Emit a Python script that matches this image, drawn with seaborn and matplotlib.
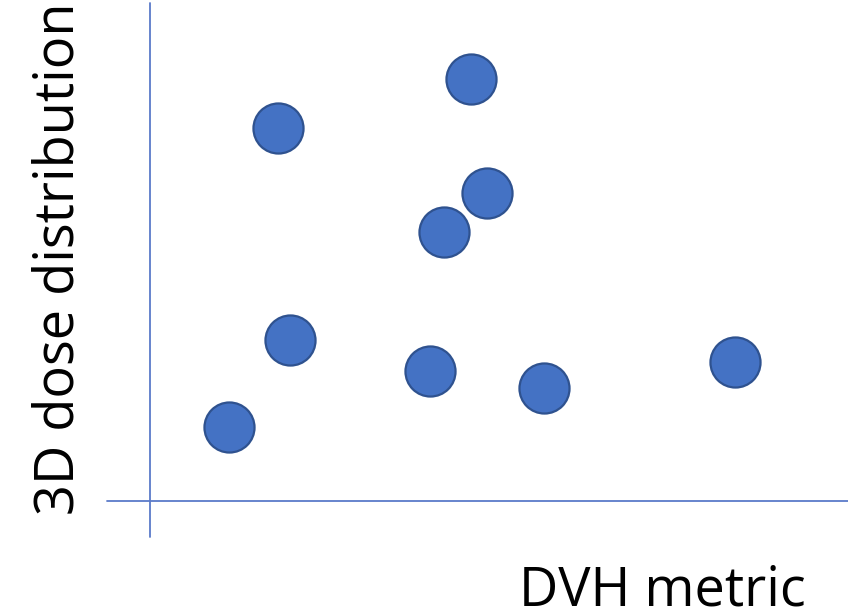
import matplotlib
matplotlib.use("Agg")
import matplotlib.pyplot as plt
import seaborn as sns
import pandas as pd

# values (arbitrary units, origin at the axis crossing)
dvh_metric = [1.83, 4.60, 4.83, 4.21, 2.01, 4.01, 5.64, 8.38, 1.13]
dose_3d = [7.49, 8.47, 6.18, 5.40, 3.23, 2.61, 2.27, 2.79, 1.49]
x_label = "DVH metric"
y_label = "3D dose distribution"

df = pd.DataFrame({"dvh": dvh_metric, "dose": dose_3d})

sns.set_style("white")
plt.rcParams['font.family'] = ['Open Sans', 'DejaVu Sans']

fig = plt.figure(figsize=(8.48, 6.16), dpi=100)
ax = fig.add_axes([0, 0, 1, 1])
ax.set_xlim(-150 / 69.8, 698 / 69.8)
ax.set_ylim(-115 / 49.8, 498 / 49.8 + 3 / 49.8)

line_col = "#5B7BC9"
ax.axvline(0, ymin=79 / 616, ymax=613 / 616, color=line_col, lw=1.3)
ax.axhline(0, xmin=107 / 848, xmax=1, color=line_col, lw=1.3)

sns.scatterplot(data=df, x="dvh", y="dose", ax=ax, s=1300,
                color="#4472C4", edgecolor="#2F528F", linewidth=1.6,
                zorder=3, legend=False)

ax.set_axis_off()

fig.text(662 / 848, 1 - 606 / 616, x_label, ha="center", va="baseline",
         fontsize=39, color="black")
fig.text(74 / 848, 1 - 259 / 616, y_label, ha="center", va="baseline",
         rotation=90, rotation_mode="anchor", fontsize=39, color="black")

fig.savefig("out.png", dpi=100)
